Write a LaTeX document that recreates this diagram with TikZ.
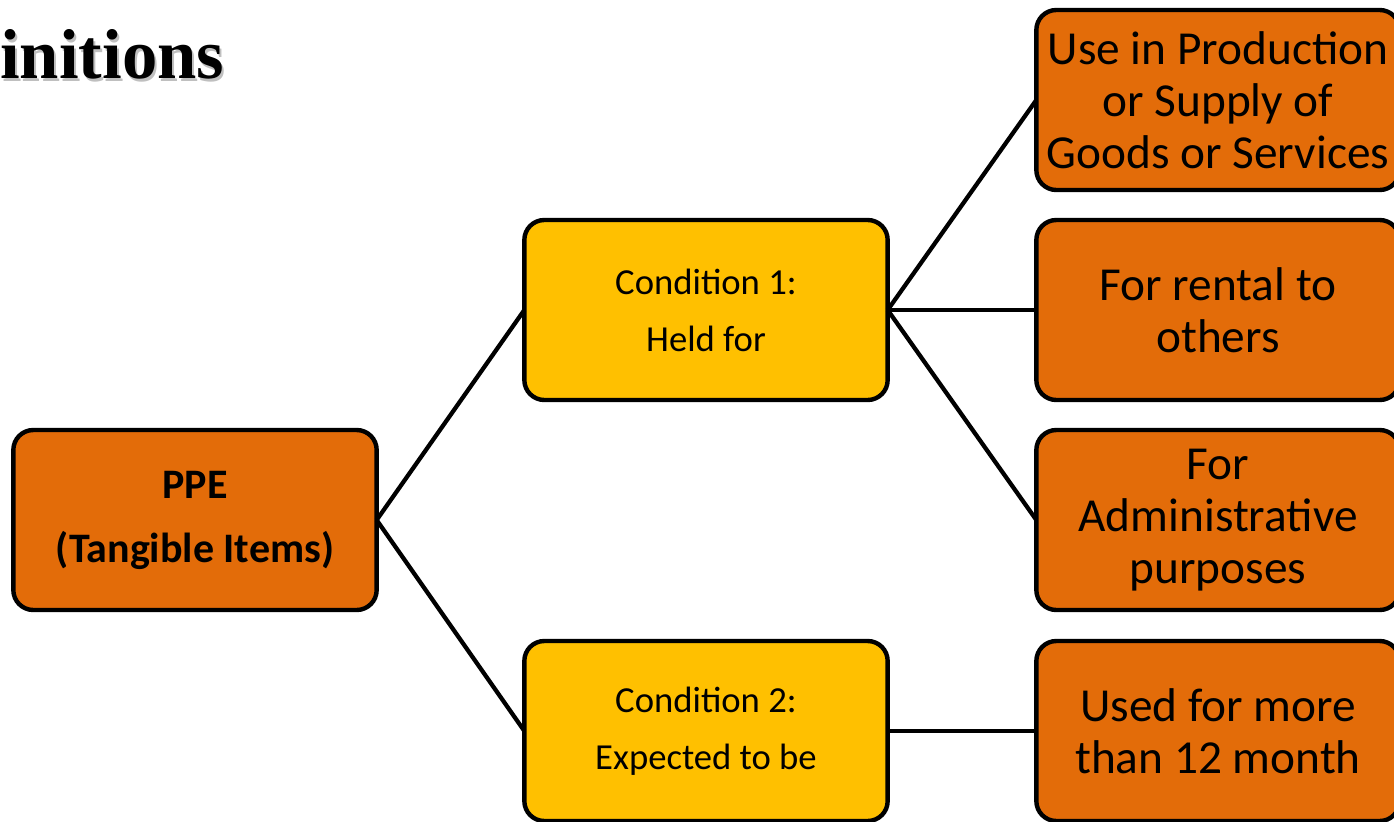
\documentclass[tikz,border=0pt]{standalone}
\usepackage{fontspec}
\setmainfont{Carlito}
\newfontfamily\titlefont{Liberation Serif}
\definecolor{boxorange}{HTML}{E36C09}
\definecolor{boxyellow}{HTML}{FFC000}
\begin{document}
\begin{tikzpicture}[x=0.75pt,y=-0.75pt,
  card/.style={draw=black, line width=3.3pt, rounded corners=15pt,
    minimum width=272.5pt, minimum height=135pt, align=center,
    inner sep=0pt, outer sep=0pt},
  rootbox/.style={card, fill=boxorange,
    font=\fontsize{31.5}{48}\selectfont\bfseries},
  condbox/.style={card, fill=boxyellow,
    font=\fontsize{27.5}{42.75}\selectfont},
  leafbox/.style={card, fill=boxorange,
    font=\fontsize{35.5}{39}\selectfont},
  link/.style={draw=black, line width=3.2pt}]
\useasboundingbox (0,0) rectangle (1394,821);
\clip (0,0) rectangle (1394,821);

% heading with its soft shadow
\node[anchor=base west, inner sep=0pt, text=black!25,
  font=\titlefont\fontsize{53}{60}\selectfont\bfseries] (titleshadow) at (2,81) {initions};
\node[anchor=base west, inner sep=0pt,
  font=\titlefont\fontsize{53}{60}\selectfont\bfseries] (title) at (0,78) {initions};

% boxes
\node[rootbox] (ppe) at (195,520) {PPE\\(Tangible Items)};
\node[condbox] (c1) at (706,310) {Condition 1:\\Held for};
\node[condbox] (c2) at (706,731) {Condition 2:\\Expected to be};
\node[leafbox] (l1) at (1218,100) {Use in Production\\or Supply of\\Goods or Services};
\node[leafbox] (l2) at (1218,310) {For rental to\\others};
\node[leafbox] (l3) at (1218,520) {For\\Administrative\\purposes};
\node[leafbox] (l4) at (1218,731) {Used for more\\than 12 month};

% connectors
\draw[link] (ppe.east) -- (c1.west);
\draw[link] (ppe.east) -- (c2.west);
\draw[link] (c1.east) -- (l1.west);
\draw[link] (c1.east) -- (l2.west);
\draw[link] (c1.east) -- (l3.west);
\draw[link] (c2.east) -- (l4.west);
\end{tikzpicture}
\end{document}
